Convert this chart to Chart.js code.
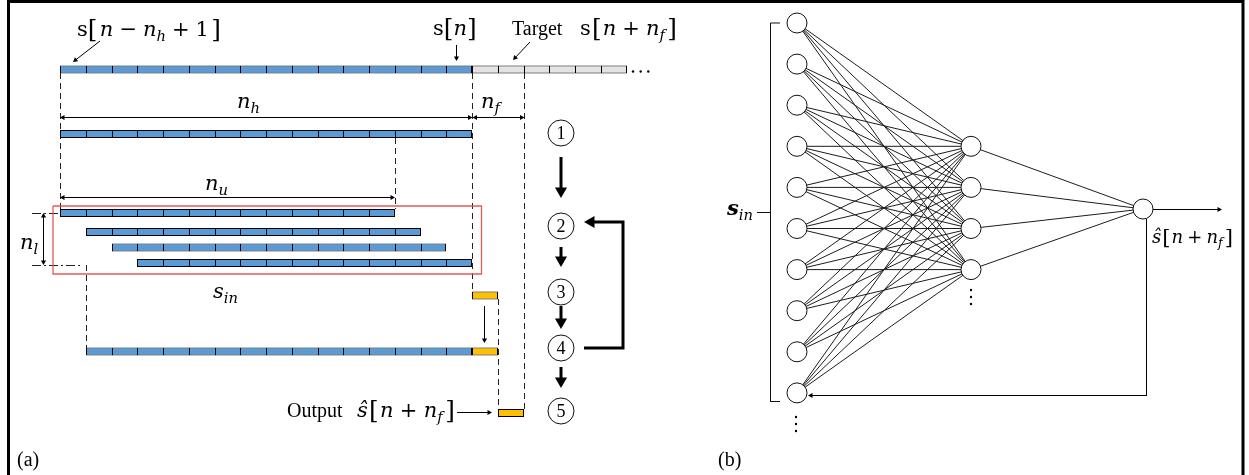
<!DOCTYPE html>
<html>
<head>
<meta charset="utf-8">
<title>Recursive forecasting scheme</title>
<script src="https://cdn.jsdelivr.net/npm/chart.js@4.4.1/dist/chart.umd.min.js"></script>
<style>
  html, body { margin: 0; padding: 0; background: #fff; overflow: hidden; }
  canvas { display: block; }
</style>
</head>
<body>
<canvas id="figure" width="1249" height="475"></canvas>
<script>
// values
const historyCells = 16;          // n_h
const horizonCells = 2;           // n_f
const futureCells = 6;            // grey cells after s[n]
const usedCells = 13;             // n_u
const lagShifts = [0, 1, 2, 3];   // n_l rows, each one cell later
const rolledShift = 1;            // history after one recursive step
const layerSizes = [10, 4, 1];    // input / hidden / output nodes drawn
const hiddenAlign = 3;            // first hidden node is level with input #4
const stepNames = ['1', '2', '3', '4', '5'];

// layout: the axes map 1:1 onto the canvas, so these are pixels
const X0 = 60, CW = 25.75;
const cellX = k => X0 + k * CW;
const edgeX = k => Math.round(cellX(k));   // crisp cell borders
const rowY = { top: 69.5, hist: 134, lags: [213, 232, 247.5, 263], fed: 295.5, rolled: 351.5, out: 413 };
const stepX = 561, stepY = [133, 226, 292, 348, 411];
const NET = { inX: 797, hidX: 971, outX: 1143, top: 23, pitch: 41.1, outY: 209 };

const MATH = '"DejaVu Serif", serif';
const TIMES = '"Liberation Serif", "Times New Roman", serif';

// ---------- helpers ----------
const GAP = { x: null, y: null };
const toPts = list => list.map(([x, y]) => ({ x, y }));
const joinPaths = paths => paths.flatMap((p, i) => (i ? [GAP] : []).concat(toPts(p)));

function path(paths, opts) {
  return Object.assign({
    type: 'line', data: joinPaths(paths), borderColor: '#000', borderWidth: 1,
    pointRadius: 0, pointHoverRadius: 0, fill: false, tension: 0, spanGaps: false
  }, opts);
}

function headAt(tip, from, r) {
  const dx = tip[0] - from[0], dy = tip[1] - from[1], L = Math.hypot(dx, dy);
  const ux = dx / L, uy = dy / L;
  return { x: tip[0] - ux * r, y: tip[1] - uy * r, rot: Math.atan2(ux, -uy) * 180 / Math.PI };
}

function heads(list, r) {
  return {
    type: 'scatter', data: list.map(h => ({ x: h.x, y: h.y })), pointStyle: 'triangle',
    pointRotation: list.map(h => h.rot), pointRadius: r, pointHoverRadius: r,
    pointBackgroundColor: '#000', pointBorderWidth: 0
  };
}

// shafts get trimmed to the head centre, heads are triangle points
function arrowGroup(specs, r, width) {
  const shafts = [], hs = [];
  specs.forEach(({ p, both }) => {
    const q = p.map(a => a.slice());
    const n = q.length;
    const h1 = headAt(p[n - 1], p[n - 2], r);
    hs.push(h1); q[n - 1] = [h1.x, h1.y];
    if (both) { const h0 = headAt(p[0], p[1], r); hs.push(h0); q[0] = [h0.x, h0.y]; }
    shafts.push(q);
  });
  return [path(shafts, { borderWidth: width, borderJoinStyle: 'miter' }), heads(hs, r)];
}

const span = (from, to, y) => Array.from({ length: to - from },
  (_, i) => ({ x: [edgeX(from + i), edgeX(from + i + 1)], y }));

function cellSet(data, color) {
  return {
    type: 'bar', indexAxis: 'y', data, backgroundColor: color, borderColor: '#000',
    borderWidth: c => {
      if (c.dataIndex == null) return 1;
      const d = c.dataset.data, cur = d[c.dataIndex], nx = d[c.dataIndex + 1];
      const last = !nx || nx.y !== cur.y || nx.x[0] !== cur.x[1];
      return { top: 1, bottom: 1, left: 1, right: last ? 1 : 0 };
    },
    borderSkipped: false, grouped: false, maxBarThickness: 8, inflateAmount: 0
  };
}

const nodeSet = (list, r) => ({
  type: 'scatter', data: list, pointStyle: 'circle', pointRadius: r, pointHoverRadius: r,
  pointBackgroundColor: '#fff', pointBorderColor: '#111', pointBorderWidth: 1
});

// ---------- panel (a): the cells ----------
const lastHist = historyCells;                    // first future cell index
const blueCells = [
  ...span(0, historyCells, rowY.top),
  ...span(0, historyCells, rowY.hist),
  ...lagShifts.flatMap((s, i) => span(s, s + usedCells, rowY.lags[i])),
  ...span(rolledShift, historyCells, rowY.rolled)
];
const greyCells = span(lastHist, lastHist + futureCells, rowY.top);
const goldCells = [
  ...span(lastHist, lastHist + 1, rowY.fed),
  ...span(lastHist, lastHist + 1, rowY.rolled),
  ...span(lastHist + horizonCells - 1, lastHist + horizonCells, rowY.out)
];

const xNow = edgeX(historyCells) + 0.5, xTarget = edgeX(historyCells + horizonCells) + 0.5;
const dashed = [
  [[edgeX(0) + 0.5, 73], [edgeX(0) + 0.5, 209]],
  [[edgeX(usedCells) + 0.5, 138], [edgeX(usedCells) + 0.5, 209]],
  [[xNow, 73], [xNow, 292]],
  [[xTarget, 73], [xTarget, 409]],
  [[edgeX(rolledShift) + 0.5, 265], [edgeX(rolledShift) + 0.5, 348]],
  [[edgeX(historyCells + 1) + 0.5, 299], [edgeX(historyCells + 1) + 0.5, 409]]
];
const extLines = [[[32, 213.5], [58, 213.5]], [[32, 265.5], [80, 265.5]]];
const redBox = [[53, 206], [481.5, 206], [481.5, 274], [53, 274], [53, 206]];

const thin = [
  { p: [[100, 41], [73, 62]] },
  { p: [[456.5, 45], [456.5, 61]] },
  { p: [[530, 42], [513, 60]] },
  { p: [[edgeX(0), 117.5], [xNow, 117.5]], both: true },
  { p: [[xNow, 117.5], [xTarget, 117.5]], both: true },
  { p: [[edgeX(0), 197.5], [edgeX(usedCells), 197.5]], both: true },
  { p: [[43.5, 213], [43.5, 265]], both: true },
  { p: [[484.5, 306], [484.5, 343]] },
  { p: [[457, 412.5], [492, 412.5]] }
];
const thick = [
  { p: [[stepX, 157], [stepX, 198]] },
  { p: [[stepX, 247], [stepX, 267]] },
  { p: [[stepX, 306], [stepX, 329]] },
  { p: [[stepX, 367], [stepX, 388]] },
  { p: [[584, 348], [623, 348], [623, 222], [584, 222]] }
];

// ---------- panel (b): the network ----------
const nodeY = i => NET.top + i * NET.pitch;
const inputs = Array.from({ length: layerSizes[0] }, (_, i) => ({ x: NET.inX, y: nodeY(i) }));
const hidden = Array.from({ length: layerSizes[1] }, (_, j) => ({ x: NET.hidX, y: nodeY(hiddenAlign + j) }));
const outputs = Array.from({ length: layerSizes[2] }, () => ({ x: NET.outX, y: NET.outY }));
const edges = [];
inputs.forEach(a => hidden.forEach(b => edges.push([[a.x, a.y], [b.x, b.y]])));
hidden.forEach(a => outputs.forEach(b => edges.push([[a.x, a.y], [b.x, b.y]])));
const lastIn = inputs[inputs.length - 1];
const netArrows = [
  { p: [[NET.outX + 3.5, NET.outY + 10], [NET.outX + 3.5, lastIn.y + 2.6], [NET.inX + 11, lastIn.y + 2.6]] },
  { p: [[NET.outX + 10, NET.outY + 0.5], [1222, NET.outY + 0.5]] }
];
const bracket = [
  [[780, nodeY(0)], [770.5, nodeY(0)], [770.5, 401.5], [780, 401.5]],
  [[757, 212.5], [770.5, 212.5]]
];
const dots = [
  { x: 633, y: 71.5 }, { x: 640.7, y: 71.5 }, { x: 648.3, y: 71.5 },
  { x: NET.inX - 1, y: 417 }, { x: NET.inX - 1, y: 424 }, { x: NET.inX - 1, y: 431 },
  { x: NET.hidX, y: 290 }, { x: NET.hidX, y: 297 }, { x: NET.hidX, y: 304 }
];

// ---------- text ----------
const labels = [
  { x: 77, y: 36, size: 21, w: 144, runs: ['s', '[:B', 2, 'n:i', 5, '−', 5, 'n:i', 'h:is', 5, '+', 5, '1', 2, ']:B'] },
  { x: 433, y: 35, size: 21, w: 43, runs: ['s', 1, '[:B', 1, 'n:i', 1, ']:B'] },
  { x: 512, y: 35, size: 20, font: TIMES, runs: ['Target'] },
  { x: 580, y: 35, size: 21, w: 97, runs: ['s', 1, '[:B', 1, 'n:i', 5, '+', 5, 'n:i', 'f:is', 2, ']:B'] },
  { x: 237, y: 108, size: 21, runs: ['n:i', 'h:is'] },
  { x: 481, y: 108, size: 21, runs: ['n:i', 'f:is'] },
  { x: 205, y: 190, size: 21, runs: ['n:i', 'u:is'] },
  { x: 20, y: 249, size: 21, runs: ['n:i', 'l:is'] },
  { x: 213, y: 298, size: 21, runs: ['s:i', 'in:is'] },
  { x: 287, y: 417, size: 20, font: TIMES, runs: ['Output'] },
  { x: 357, y: 417, size: 21, w: 98, runs: ['ŝ:i', 1, '[:B', 1, 'n:i', 5, '+', 5, 'n:i', 'f:is', 2, ']:B'] },
  { x: 17, y: 466, size: 20, font: TIMES, runs: ['(a)'] },
  { x: 718, y: 466, size: 20, font: TIMES, runs: ['(b)'] },
  { x: 727, y: 215, size: 21, runs: ['s:bi', 'in:is'] },
  { x: 1152, y: 243, size: 18, w: 81, runs: ['ŝ:i', 1, '[:B', 1, 'n:i', 4, '+', 4, 'n:i', 'f:is', 2, ']:B'] },
  ...stepNames.map((t, i) => ({ x: stepX, y: stepY[i] + 6, size: 18, font: TIMES, align: 'center', runs: [t] }))
];

function runFont(flags, size, fam) {
  let s = size;
  if (flags.includes('s')) s *= 0.7;
  if (flags.includes('B')) s *= 1.18;
  return (flags.includes('i') ? 'italic ' : '') + (flags.includes('b') ? 'bold ' : '') + s.toFixed(1) + 'px ' + fam;
}

function drawRich(ctx, l, px, py) {
  const fam = l.font || MATH;
  const parts = l.runs.map(r => {
    if (typeof r === 'number') return { gap: r };
    const [t, f = ''] = r.split(':');
    ctx.font = runFont(f, l.size, fam);
    return { t, f, font: ctx.font, w: ctx.measureText(t).width };
  });
  const natural = parts.reduce((a, p) => a + (p.gap != null ? p.gap : p.w), 0);
  const gapSum = parts.reduce((a, p) => a + (p.gap || 0), 0);
  const k = l.w && gapSum > 0 ? Math.max(0, (l.w - (natural - gapSum)) / gapSum) : 1;
  let x = l.align === 'center' ? px - natural / 2 : px;
  parts.forEach(p => {
    if (p.gap != null) { x += p.gap * k; return; }
    ctx.font = p.font;
    const dy = p.f.includes('s') ? l.size * 0.22 : (p.f.includes('B') ? l.size * 0.04 : 0);
    ctx.fillText(p.t, x, py + dy);
    x += p.w;
  });
}

const textPlugin = {
  id: 'figureText',
  afterDatasetsDraw(chart) {
    const { ctx, scales: { x, y } } = chart;
    ctx.save();
    ctx.fillStyle = '#000';
    ctx.textAlign = 'left';
    ctx.textBaseline = 'alphabetic';
    labels.forEach(l => drawRich(ctx, l, x.getPixelForValue(l.x), y.getPixelForValue(l.y)));
    ctx.restore();
  }
};

// ---------- chart ----------
const layers = [
  path([[[8.5, 475], [8.5, 1.5], [1243, 1.5], [1243, 475]]], { borderWidth: 3 }),
  path(dashed, { borderDash: [6, 4], borderColor: '#222' }),
  path(extLines, { borderDash: [9, 3, 2, 3], borderColor: '#222' }),
  path([redBox], { borderColor: 'rgba(232, 70, 70, 0.9)', borderWidth: 1.3 }),
  ...arrowGroup(thin, 3, 1),
  cellSet(blueCells, '#5b9bd5'),
  cellSet(greyCells, '#e3e3e3'),
  cellSet(goldCells, '#ffc000'),
  ...arrowGroup(thick, 7, 3),
  path(edges, { borderColor: '#1c1c1c', borderWidth: 1 }),
  ...arrowGroup(netArrows, 3, 1),
  path(bracket, { borderColor: '#111' }),
  nodeSet(inputs, 10),
  nodeSet(hidden, 10),
  nodeSet(outputs, 10),
  nodeSet(stepNames.map((_, i) => ({ x: stepX, y: stepY[i] })), 13),
  { type: 'scatter', data: dots, pointRadius: 1.2, pointHoverRadius: 1.2, pointBackgroundColor: '#000', pointBorderWidth: 0 }
];
layers.forEach((d, i) => { d.order = layers.length - i; });

new Chart(document.getElementById('figure'), {
  type: 'scatter',
  data: { datasets: layers },
  options: {
    responsive: false,
    animation: false,
    devicePixelRatio: 1,
    events: [],
    layout: { padding: 0, autoPadding: false },
    plugins: { legend: { display: false }, tooltip: { enabled: false } },
    scales: {
      x: { type: 'linear', min: 0, max: 1249, display: false, offset: false, grace: 0 },
      y: { type: 'linear', min: 0, max: 475, reverse: true, display: false, offset: false, grace: 0 }
    }
  },
  plugins: [textPlugin]
});
</script>
</body>
</html>
